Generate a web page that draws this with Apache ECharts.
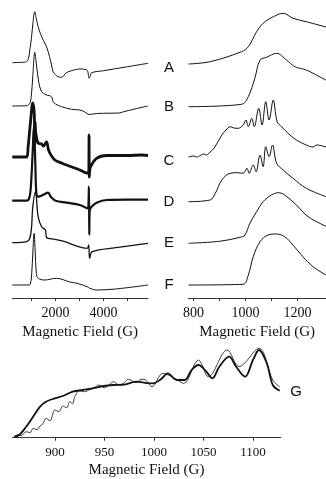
<!DOCTYPE html>
<html>
<head>
<meta charset="utf-8">
<script src="https://cdn.jsdelivr.net/npm/echarts@6/dist/echarts.min.js"></script>
<style>
  html, body { margin: 0; padding: 0; background: #fff; }
  #chart { width: 326px; height: 479px; }
</style>
</head>
<body>
<div id="chart"></div>
<script>
// full-sweep spectra, [field (G), signal above own baseline]
const wideA = [[200,0],[700,0.5],[792,1],[870,4],[929,12.7],[1000,25],[1060,40],[1137,51],[1200,44],[1275,36],[1387,28],[1500,22],[1625,16],[1750,6],[1833,-2.3],[1900,-9],[2000,-12],[2100,-14],[2250,-14.6],[2450,-10],[2667,-8],[3012,-6.3],[3220,-6.6],[3330,-8],[3400,-15.6],[3450,-13],[3500,-10],[4000,-8],[5000,-4],[5850,-0.6]];
const wideB = [[200,0],[800,0.3],[929,2.7],[1000,12],[1050,29],[1137,53.7],[1200,42],[1300,24],[1387,16],[1500,12.5],[1625,11],[1833,9.3],[1900,4.3],[2000,2],[2250,-0.7],[2667,-3.3],[3012,-4],[3220,-6],[3400,-8.5],[3700,-7.5],[4300,-7.2],[4650,-7],[4800,-6],[5300,-3],[5850,0]];
const wideC = [[200,0],[800,0],[858,10],[958,35],[1054,54],[1100,48],[1120,40],[1135,12],[1150,35],[1179,24],[1275,14],[1420,13],[1500,11],[1625,15],[1700,8],[1762,4],[1971,-3],[2250,-6],[2458,-8],[3012,-13],[3317,-16],[3380,-16],[3395,22],[3405,-20],[3420,-14],[3458,-9.7],[3708,-1.3],[4125,1.5],[5000,1.5],[5600,2],[5850,1.5]];
const wideD = [[200,0],[800,0],[929,5],[1000,25],[1050,50],[1100,75],[1150,45],[1200,8],[1275,4],[1500,6],[1690,8],[1800,4],[2000,0],[2458,-2],[3012,-4.3],[3317,-7.6],[3390,14],[3405,-34],[3420,-10],[3500,-6],[3708,-2],[4125,0.7],[5000,1],[5850,1]];
const wideE = [[200,0],[800,1],[929,4.4],[1000,15],[1050,35],[1167,51],[1275,26],[1420,16],[1580,12.7],[1625,5.4],[1971,3.4],[2390,1],[2950,-4],[3317,-5.6],[3380,-2.3],[3420,-15.6],[3530,-9],[4500,-5],[5850,-0.6]];
const wideF = [[200,0],[900,0],[950,1],[1000,8],[1060,35],[1108,51.7],[1150,35],[1200,11.7],[1275,6.7],[1550,5],[2040,6.7],[2600,3],[2900,1.7],[3317,-1.7],[3400,-3],[3700,-5],[4500,-4],[5850,0]];

// low-field expansions
const zoomA = [[781,0],[864,2.3],[985,12.3],[1011,17.3],[1043,32.3],[1068,40.7],[1107,47.3],[1145,50.7],[1183,45.7],[1234,42.3],[1310,37]];
const zoomB = [[781,0],[985,2.4],[1011,10],[1036,28.4],[1056,46.7],[1081,49.4],[1120,53.4],[1158,46.7],[1190,40],[1234,36.7],[1310,26.5]];
const zoomC = [[781,0],[800,1],[812,0],[826,1.5],[840,3],[850,2],[864,5],[880,9],[909,22],[925,27],[941,30.3],[955,29],[972,28.7],[991,32],[1002,37],[1011,30.3],[1024,38.7],[1034,30.3],[1051,48.7],[1064,32],[1078,55.3],[1091,37],[1107,57],[1122,35.3],[1139,30.3],[1164,23.7],[1196,17],[1234,12],[1260,10],[1275,12],[1310,10]];
const zoomD = [[781,0],[864,1.7],[884,8.4],[909,21.7],[941,28.4],[972,29],[991,28.4],[1006,33.4],[1014,28.4],[1030,36.7],[1041,30],[1056,46.7],[1068,35],[1078,55],[1091,45],[1104,56.7],[1120,38.4],[1145,31.7],[1183,23.4],[1234,13.4],[1310,5]];
const zoomE = [[781,0],[900,2],[979,6],[998,8.3],[1017,20],[1043,31.6],[1068,41.6],[1100,48.3],[1126,50.6],[1151,48.3],[1196,38.3],[1241,26.6],[1310,17]];
const zoomF = [[781,0],[991,0.7],[1011,10],[1030,28.3],[1056,43.3],[1087,50],[1120,51],[1151,48.3],[1183,40],[1221,28.3],[1260,18.3],[1310,10]];

// panel G: simulation (thick) and experiment (thin)
const simG = [[859,1],[864,2.7],[871,11],[878,21],[885,31],[891,36],[900,39.4],[908,41.7],[918,46],[928,47.7],[938,49.4],[949,51.7],[959,52.7],[970,53],[982,56],[990,55],[999,54.4],[1007,58.4],[1014,64.4],[1023,57.7],[1031,57.7],[1038,67.7],[1045,72.7],[1053,66],[1059,59.4],[1066,71],[1076,81],[1083,71],[1092,61],[1100,77.7],[1106,87.7],[1114,74.4],[1120,52.7],[1127,47]];
const expG = [[859,1],[863,3],[866,2],[871,6],[875,5],[878,9.4],[882,8],[885,11.7],[888,14],[891,19.4],[895,17],[900,27.7],[904,26],[908,31.7],[912,30],[915,36],[918,34],[920,41],[925,47],[930,46],[935,48],[940,50],[944,52.7],[950,50],[955,53],[959,56],[965,52.7],[970,55],[974,58.4],[982,55],[986,58],[990,58.4],[998,51],[1009,64.4],[1016,62],[1022,59],[1030,54.4],[1045,77.7],[1055,61],[1074,87.7],[1086,71],[1106,89.4],[1120,57.7],[1127,51]];

const wideTicks = [1000, 2000, 3000, 4000, 5000];
const wideLabels = [2000, 4000];
const zoomTicks = [800, 900, 1000, 1100, 1200];
const zoomLabels = [800, 1000, 1200];
const gTicks = [900, 950, 1000, 1050, 1100];
const traceNames = ["A", "B", "C", "D", "E", "F"];

const chart = echarts.init(document.getElementById("chart"));

const ink = "#111";
const serif = "'Liberation Serif', 'DejaVu Serif', serif";

function xAxisFor(gridIndex, min, max, ticks, labels, fontSize) {
  return {
    type: "value",
    gridIndex,
    min,
    max,
    name: "Magnetic Field (G)",
    nameLocation: "middle",
    nameGap: 25,
    nameTextStyle: { color: ink, fontFamily: serif, fontSize: 15 },
    axisLine: { lineStyle: { color: "#333", width: 1 } },
    axisTick: { show: true, length: 3, customValues: ticks, lineStyle: { color: "#333" } },
    axisLabel: {
      customValues: labels,
      margin: 8,
      color: ink,
      fontFamily: serif,
      fontSize,
      formatter: (v) => String(v)
    },
    splitLine: { show: false }
  };
}

function yAxisFor(gridIndex, max) {
  return {
    type: "value",
    gridIndex,
    min: 0,
    max,
    show: false
  };
}

// baseline heights (px above the axis line) for the stacked traces
const wideBase = [235.3, 192, 141, 97.3, 55.3, 13];
const zoomBase = [234, 191.3, 141, 96.3, 54.7, 13];
// C and D are noisy records: a wider stroke stands in for the noise band
const wideWidth = [1, 1, 2.8, 2.2, 1.3, 1];
const zoomWidth = [1, 1, 1, 1, 1, 1];

function shifted(data, base) {
  return data.map(([x, y]) => [x, y + base]);
}

function traceSeries(data, base, width, xi) {
  return {
    type: "line",
    xAxisIndex: xi,
    yAxisIndex: xi,
    data: shifted(data, base),
    showSymbol: false,
    smooth: 0.35,
    lineStyle: { color: ink, width },
    silent: true
  };
}

const wide = [wideA, wideB, wideC, wideD, wideE, wideF];
const zoom = [zoomA, zoomB, zoomC, zoomD, zoomE, zoomF];

const series = [];
wide.forEach((d, i) => series.push(traceSeries(d, wideBase[i], wideWidth[i], 0)));
zoom.forEach((d, i) => series.push(traceSeries(d, zoomBase[i], zoomWidth[i], 1)));
series.push(traceSeries(expG, 0, 0.8, 2));
series.push(traceSeries(simG, 0, 1.8, 2));

const labelY = [68, 107, 161, 201.7, 243, 285];

const option = {
  animation: false,
  grid: [
    { left: 12.3, right: 178, top: 0, bottom: 181 },
    { left: 188.3, right: 0, top: 0, bottom: 181 },
    { left: 12.3, right: 45.3, top: 340, bottom: 41.3 }
  ],
  xAxis: [
    xAxisFor(0, 200, 5850, wideTicks, wideLabels, 14),
    xAxisFor(1, 780, 1310, zoomTicks, zoomLabels, 14),
    xAxisFor(2, 857, 1128, gTicks, gTicks, 13)
  ],
  yAxis: [yAxisFor(0, 298), yAxisFor(1, 298), yAxisFor(2, 97.7)],
  graphic: traceNames.map((t, i) => ({
    type: "text",
    x: 169,
    y: labelY[i],
    style: {
      text: t,
      fill: ink,
      font: "15px 'Liberation Sans', Arial, sans-serif",
      textAlign: "center",
      textVerticalAlign: "middle"
    }
  })).concat([{
    type: "text",
    x: 296,
    y: 392,
    style: {
      text: "G",
      fill: ink,
      font: "15px 'Liberation Sans', Arial, sans-serif",
      textAlign: "center",
      textVerticalAlign: "middle"
    }
  }]),
  series
};

chart.setOption(option);

window.addEventListener("resize", () => chart.resize());
</script>
</body>
</html>
